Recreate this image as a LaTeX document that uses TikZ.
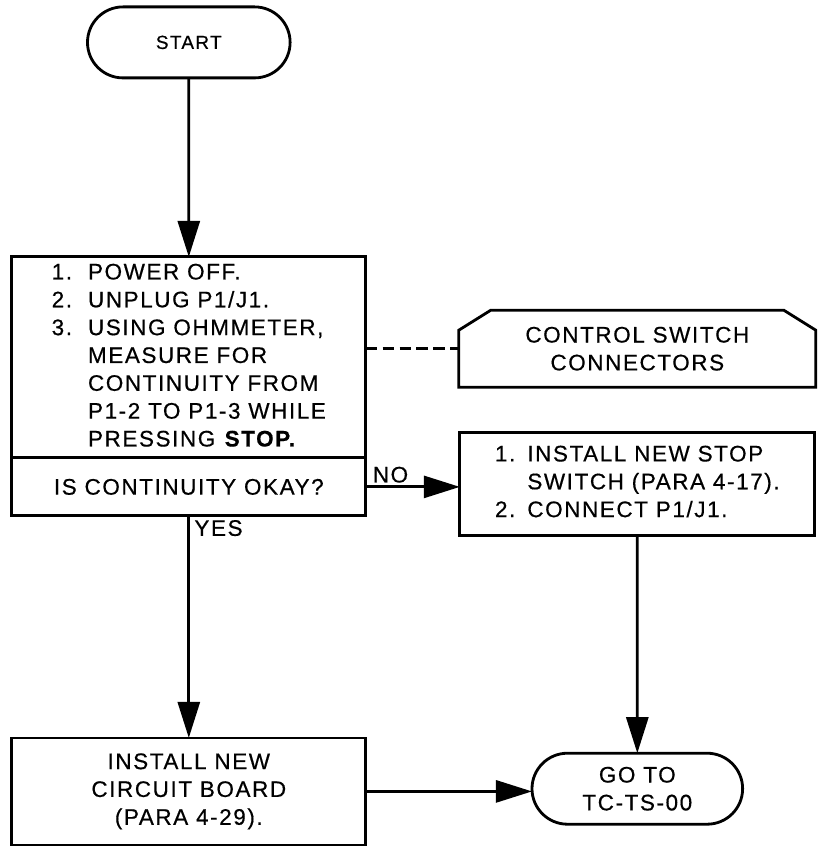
\documentclass[tikz,border=0pt]{standalone}
\usepackage{fontspec}
\setmainfont{Liberation Sans}[LetterSpace=7, FakeBold=0.5]
\usepackage{tikz}
\usetikzlibrary{shapes.misc,arrows.meta,positioning}

\begin{document}
\begin{tikzpicture}[node distance=1.5cm, line width=2pt,
    terminal/.style={rounded rectangle, draw=black, outer sep=0pt, minimum width=5.3cm, minimum height=1.775cm, align=center, font=\fontsize{16}{19.8}\selectfont},
    action/.style={rectangle, draw=black, outer sep=0pt, inner ysep=2pt, minimum width=8.85cm, align=center, font=\fontsize{16}{19.8}\selectfont},
    note/.style={rectangle, outer sep=0pt, minimum width=8.925cm, minimum height=1.925cm, align=center, font=\fontsize{16}{19.8}\selectfont},
    answer/.style={font=\fontsize{16}{19.8}\selectfont, inner sep=2pt},
    flow/.style={-{Triangle[length=0.9cm, width=0.55cm]}}
]

    \useasboundingbox (0,0) rectangle (20.5,-21.225);

    \node[terminal, font=\fontsize{13.5}{16}\selectfont] (start) at (4.72,-1.06) {START};

    \node[action, minimum height=5.025cm, below=4.475cm of start] (steps) {%
        \begin{tabular}{@{}l@{\hspace{0.4cm}}l@{}}
        1. & POWER OFF.\\
        2. & UNPLUG P1/J1.\\
        3. & USING OHMMETER,\\
           & MEASURE FOR\\
           & CONTINUITY FROM\\
           & P1-2 TO P1-3 WHILE\\
           & PRESSING \textbf{STOP.}
        \end{tabular}};
    \node[action, minimum height=1.45cm, below=0pt of steps] (check) {IS CONTINUITY OKAY?};

    \node[action, minimum width=8.875cm, minimum height=2.575cm, right=2.35cm of check, yshift=0.08cm] (swap) {%
        \begin{tabular}{@{}l@{\hspace{0.3cm}}l@{}}
        1. & INSTALL NEW STOP\\
           & SWITCH (PARA 4-17).\\
        2. & CONNECT P1/J1.
        \end{tabular}};
    \node[note, above=1.125cm of swap] (conn) {CONTROL SWITCH\\CONNECTORS};
    \draw ([xshift=0.8cm]conn.north west) -- ([xshift=-0.8cm]conn.north east)
        -- ([yshift=-0.5cm]conn.north east) -- (conn.south east)
        -- (conn.south west) -- ([yshift=-0.5cm]conn.north west) -- cycle;

    \node[action, minimum height=2.675cm, below=5.55cm of check] (board) {INSTALL NEW\\CIRCUIT BOARD\\(PARA 4-29).};
    \node[terminal, minimum width=5.5cm, below=5.45cm of swap] (goto) {GO TO\\TC-TS-00};

    \draw[flow] (start) -- (steps);
    \draw[dash pattern=on 8pt off 4pt] (conn.west -| steps.east) -- (conn.west);
    \draw[flow] (check.east) -- (check.east -| swap.west);
    \node[answer, anchor=south west] (no) at ([xshift=2pt]check.east) {NO};
    \draw[flow] (check) -- (board);
    \node[answer, anchor=north west] (yes) at ([xshift=1pt]check.south) {YES};
    \draw[flow] (swap) -- (goto);
    \draw[flow] (board.east) -- (board.east -| goto.west);

\end{tikzpicture}
\end{document}
